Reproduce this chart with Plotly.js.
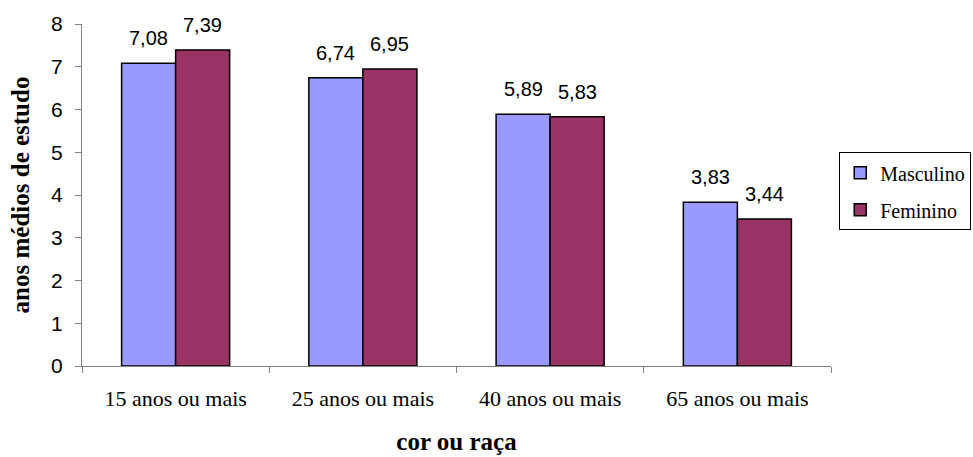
<!DOCTYPE html>
<html>
<head>
<meta charset="utf-8">
<script src="https://cdn.plot.ly/plotly-3.0.1.min.js"></script>
<style>html,body{margin:0;padding:0;background:#fff;}#chart{width:973px;height:457px;}</style>
</head>
<body>
<div id="chart"></div>
<script>
var categories = ["15 anos ou mais", "25 anos ou mais", "40 anos ou mais", "65 anos ou mais"];
var masculino = [7.08, 6.74, 5.89, 3.83];
var feminino = [7.39, 6.95, 5.83, 3.44];
var seriesNames = ["Masculino", "Feminino"];
var yTicks = [0, 1, 2, 3, 4, 5, 6, 7, 8];

var BARGAP = 0.423;
var colors = ["#9999FF", "#993366"];
var series = [masculino, feminino];

var traces = series.map(function (vals, s) {
  return {
    type: "bar",
    name: seriesNames[s],
    x: categories,
    y: vals,
    legendgroup: "g" + s,
    marker: { color: colors[s], line: { color: "#000", width: 1.5 } },
    hoverinfo: "skip"
  };
});

function fmt(v) { return v.toFixed(2).replace(".", ","); }

var barW = (1 - BARGAP) / 2;
var annotations = [];
series.forEach(function (vals, s) {
  vals.forEach(function (v, i) {
    annotations.push({
      xref: "x", yref: "y",
      x: i + (s === 0 ? -barW / 2 : barW / 2),
      y: v,
      text: fmt(v),
      showarrow: false,
      yanchor: "middle",
      yshift: 25,
      font: { family: "Liberation Sans, Arial, sans-serif", size: 20, color: "#000" }
    });
  });
});

var layout = {
  width: 973,
  height: 457,
  paper_bgcolor: "#fff",
  plot_bgcolor: "#fff",
  margin: { l: 82, r: 142, t: 24, b: 91, autoexpand: false },
  barmode: "group",
  bargap: BARGAP,
  bargroupgap: 0,
  showlegend: true,
  legend: {
    xref: "paper", yref: "paper",
    x: 1.011, y: 0.625, xanchor: "left", yanchor: "top",
    bordercolor: "#000", borderwidth: 1, bgcolor: "#fff",
    tracegroupgap: 8,
    itemwidth: 30,
    font: { family: "Liberation Serif, Times New Roman, serif", size: 20, color: "#000" }
  },
  xaxis: {
    type: "category",
    tickson: "boundaries",
    ticks: "outside", ticklen: 6, tickcolor: "#808080", tickwidth: 1,
    showline: true, linecolor: "#808080", linewidth: 1,
    showgrid: false, zeroline: false,
    ticklabelstandoff: 13,
    tickfont: { family: "Liberation Serif, Times New Roman, serif", size: 22, color: "#000" },
    title: { text: "<b>cor ou raça</b>", standoff: 22,
      font: { family: "Liberation Serif, Times New Roman, serif", size: 25, color: "#000" } }
  },
  yaxis: {
    range: [0, 8],
    tickvals: yTicks,
    ticktext: yTicks.map(String),
    ticks: "outside", ticklen: 6, tickcolor: "#808080", tickwidth: 1,
    showline: true, linecolor: "#808080", linewidth: 1,
    showgrid: false, zeroline: false,
    ticklabelstandoff: 8,
    tickfont: { family: "Liberation Sans, Arial, sans-serif", size: 21, color: "#000" },
    title: { text: "<b>anos médios de estudo</b>", standoff: 14,
      font: { family: "Liberation Serif, Times New Roman, serif", size: 25, color: "#000" } }
  },
  annotations: annotations
};

Plotly.newPlot("chart", traces, layout, { displayModeBar: false, staticPlot: true });
</script>
</body>
</html>
